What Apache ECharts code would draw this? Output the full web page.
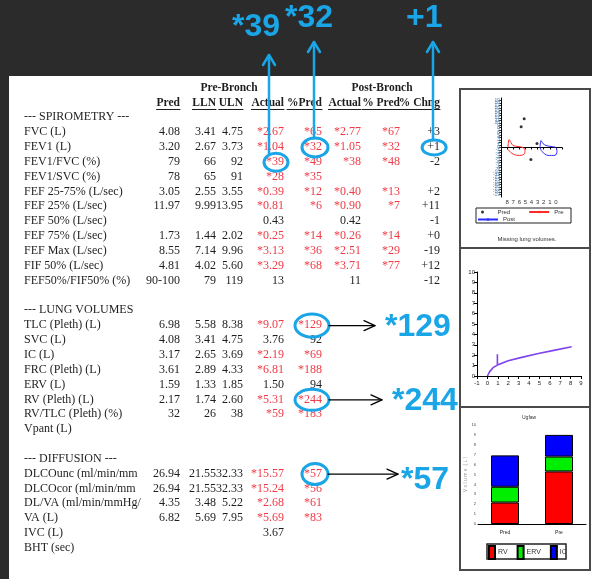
<!DOCTYPE html>
<html><head><meta charset="utf-8">
<script src="https://cdn.jsdelivr.net/npm/echarts@6/dist/echarts.min.js"></script>
<style>html,body{margin:0;padding:0;background:#2b2b2b;overflow:hidden}#c{width:592px;height:579px}</style>
</head><body><div id="c"></div><script>
// ---------------- DATA ----------------
const groupHeaders = ['Pre-Bronch', 'Post-Bronch'];
const colHeaders = ['Pred', 'LLN', 'ULN', 'Actual', '%Pred', 'Actual', '% Pred', '% Chng'];
const rowLabels = [
  '--- SPIROMETRY ---', 'FVC (L)', 'FEV1 (L)', 'FEV1/FVC (%)', 'FEV1/SVC (%)', 'FEF 25-75% (L/sec)',
  'FEF 25% (L/sec)', 'FEF 50% (L/sec)', 'FEF 75% (L/sec)', 'FEF Max (L/sec)', 'FIF 50% (L/sec)',
  'FEF50%/FIF50% (%)', '', '--- LUNG VOLUMES', 'TLC (Pleth) (L)', 'SVC (L)', 'IC (L)', 'FRC (Pleth) (L)',
  'ERV (L)', 'RV (Pleth) (L)', 'RV/TLC (Pleth) (%)', 'Vpant (L)', '', '--- DIFFUSION ---',
  'DLCOunc (ml/min/mm', 'DLCOcor (ml/min/mm', 'DL/VA (ml/min/mmHg/', 'VA (L)', 'IVC (L)', 'BHT (sec)'
];
const predCol = ['', '4.08', '3.20', '79', '78', '3.05', '11.97', '', '1.73', '8.55', '4.81', '90-100', '', '',
  '6.98', '4.08', '3.17', '3.61', '1.59', '2.17', '32', '', '', '', '26.94', '26.94', '4.35', '6.82', '', ''];
const llnCol = ['', '3.41', '2.67', '66', '65', '2.55', '9.99', '', '1.44', '7.14', '4.02', '79', '', '',
  '5.58', '3.41', '2.65', '2.89', '1.33', '1.74', '26', '', '', '', '21.55', '21.55', '3.48', '5.69', '', ''];
const ulnCol = ['', '4.75', '3.73', '92', '91', '3.55', '13.95', '', '2.02', '9.96', '5.60', '119', '', '',
  '8.38', '4.75', '3.69', '4.33', '1.85', '2.60', '38', '', '', '', '32.33', '32.33', '5.22', '7.95', '', ''];
const preActualCol = ['', '*2.67', '*1.04', '*39', '*28', '*0.39', '*0.81', '0.43', '*0.25', '*3.13', '*3.29', '13', '', '',
  '*9.07', '3.76', '*2.19', '*6.81', '1.50', '*5.31', '*59', '', '', '', '*15.57', '*15.24', '*2.68', '*5.69', '3.67', ''];
const prePctCol = ['', '*65', '*32', '*49', '*35', '*12', '*6', '', '*14', '*36', '*68', '', '', '',
  '*129', '92', '*69', '*188', '94', '*244', '*183', '', '', '', '*57', '*56', '*61', '*83', '', ''];
const postActualCol = ['', '*2.77', '*1.05', '*38', '', '*0.40', '*0.90', '0.42', '*0.26', '*2.51', '*3.71', '11', '', '',
  '', '', '', '', '', '', '', '', '', '', '', '', '', '', '', ''];
const postPctCol = ['', '*67', '*32', '*48', '', '*13', '*7', '', '*14', '*29', '*77', '', '', '',
  '', '', '', '', '', '', '', '', '', '', '', '', '', '', '', ''];
const chngCol = ['', '+3', '+1', '-2', '', '+2', '+11', '-1', '+0', '-19', '+12', '-12', '', '',
  '', '', '', '', '', '', '', '', '', '', '', '', '', '', '', ''];

// callouts: [row, column] of the highlighted cell, and the enlarged label
const calloutCells = [[3, 3], [2, 4], [2, 7], [14, 4], [19, 4], [24, 4]];
const calloutLabels = ['*39', '*32', '+1', '*129', '*244', '*57'];

// flow-volume panel
const predFlowPts = [[5.2, 11.6], [5.7, 8.4], [3.1, 1.6], [4.1, -4.8]];
const preLoopPts = [[7.85, 0], [7.69, 3.2], [7.36, 2], [7.03, 0.8], [6.21, 0.4], [5.39, 0], [5.07, -1.2],
  [5.23, -2.8], [6.21, -3.2], [7.2, -2.4], [7.85, -0.8]];
const postLoopPts = [[2.61, 0], [2.44, 2.8], [2.11, 1.6], [1.62, 0.8], [0.8, 0.4], [0, 0], [-0.18, -1.6],
  [0.15, -3.2], [1.3, -3.2], [2.28, -1.6], [2.61, 0]];
// volume-time panel
const curvePts = [[0, 0], [0.22, 0.42], [0.54, 0.8], [0.96, 1.05], [0.96, 2.08], [0.96, 1.05], [2, 1.47],
  [3.3, 1.79], [4.9, 2.17], [6.5, 2.49], [8.1, 2.81]];
// lung volume bars
const barCats = ['Pred', 'Pre'];
const rvVals = [2.17, 5.31];
const ervVals = [1.59, 1.50];
const icVals = [3.17, 2.19];

// ---------------- LAYOUT / STYLE ----------------
const BLUE = '#19a5e6', RED = '#f03a45', INK = '#1e1e1e';
const SERIF = '"Liberation Serif","Times New Roman",serif';
const SANS = '"Liberation Sans",Arial,sans-serif';
const rowY = i => 117.2 + i * 14.85;
const colRight = [180, 216, 243, 284, 322, 361, 400, 440];
const cols = [predCol, llnCol, ulnCol, preActualCol, prePctCol, postActualCol, postPctCol, chngCol];
const calloutLayout = [
  { rx: 12, ry: 9, dx: 1, dir: 'up', ax: 269, tip: 55, tx: 232, ty: 27 },
  { rx: 13, ry: 9.5, dx: 2, dir: 'up', ax: 314, tip: 42, tx: 285, ty: 18 },
  { rx: 12, ry: 7.5, dx: 0.5, dir: 'up', ax: 433, tip: 42, tx: 406, ty: 18 },
  { rx: 17, ry: 11.5, dx: 2, dir: 'right', tip: 375, tx: 385, ty: 327 },
  { rx: 17, ry: 10.5, dx: 2, dir: 'right', tip: 382, tx: 392, ty: 401 },
  { rx: 13, ry: 10.5, dx: 2, dir: 'right', tip: 398, tx: 401, ty: 480 }
];

const mctx = document.createElement('canvas').getContext('2d');
function tw(text, font) { mctx.font = font; return mctx.measureText(text).width; }
function T(text, x, y, font, fill, align, z) {
  return { type: 'text', x: x, y: y, z: z || 5, silent: true,
    style: { text: text, font: font, fill: fill || INK, align: align || 'left', verticalAlign: 'middle',
      textAlign: align || 'left', textVerticalAlign: 'middle' } };
}
function L(points, stroke, lw, z) {
  return { type: 'polyline', z: z || 6, silent: true, shape: { points: points },
    style: { stroke: stroke, lineWidth: lw, fill: null, lineCap: 'round', lineJoin: 'round' } };
}

const g = [];
g.push({ type: 'rect', z: 0, silent: true, shape: { x: 9, y: 76, width: 583, height: 503 }, style: { fill: '#ffffff' } });

const F = '12px ' + SERIF, FB = 'bold 11.5px ' + SERIF;
g.push(T(groupHeaders[0], 229, 88, FB, INK, 'center'));
g.push(T(groupHeaders[1], 382, 88, FB, INK, 'center'));
colHeaders.forEach((h, c) => {
  g.push(T(h, colRight[c], 103, FB, INK, 'right'));
  const w = tw(h, FB);
  g.push(L([[colRight[c] - w, 109.5], [colRight[c], 109.5]], INK, 1, 5));
});
rowLabels.forEach((lab, i) => {
  if (lab) g.push(T(lab, 24, rowY(i), F, INK, 'left'));
  cols.forEach((col, c) => {
    const v = col[i];
    if (v) g.push(T(v, colRight[c], rowY(i), F, v.charAt(0) === '*' ? RED : INK, 'right'));
  });
});

// callouts
calloutCells.forEach((cell, k) => {
  const lay = calloutLayout[k];
  const txt = cols[cell[1]][cell[0]];
  const w = tw(txt, F);
  const cx = colRight[cell[1]] - w / 2 + lay.dx, cy = rowY(cell[0]) + 0.5;
  g.push({ type: 'ellipse', z: 7, silent: true, shape: { cx: cx, cy: cy, rx: lay.rx, ry: lay.ry },
    style: { fill: null, stroke: BLUE, lineWidth: 3 } });
  if (lay.dir === 'up') {
    g.push(L([[lay.ax, cy - lay.ry], [lay.ax, lay.tip]], BLUE, 2.5, 7));
    g.push(L([[lay.ax - 6, lay.tip + 10], [lay.ax, lay.tip], [lay.ax + 6, lay.tip + 10]], BLUE, 2.5, 7));
  } else {
    g.push(L([[cx + lay.rx, cy], [lay.tip, cy]], '#000', 1.3, 7));
    g.push(L([[lay.tip - 11, cy - 5], [lay.tip, cy], [lay.tip - 11, cy + 5]], '#000', 1.3, 7));
  }
  g.push(T(calloutLabels[k], lay.tx, lay.ty, 'bold 32px ' + SANS, BLUE, 'left', 8));
});

// right panels frames
g.push({ type: 'rect', z: 3, silent: true, shape: { x: 460, y: 89, width: 130, height: 481 },
  style: { fill: null, stroke: '#4a4a4a', lineWidth: 2 } });
g.push(L([[460, 248], [590, 248]], '#4a4a4a', 2, 3));
g.push(L([[460, 407], [590, 407]], '#4a4a4a', 2, 3));
g.push({ type: 'rect', z: 3, silent: true, shape: { x: 476, y: 208, width: 95, height: 15 },
  style: { fill: null, stroke: '#222', lineWidth: 1 } });
g.push(T('Missing lung volumes.', 527, 239, '6px ' + SANS, '#333', 'center'));
g.push({ type: 'rect', z: 3, silent: true, shape: { x: 487, y: 544, width: 79, height: 15 },
  style: { fill: null, stroke: '#222', lineWidth: 1.5 } });

const axBase = {
  axisLine: { lineStyle: { color: '#000', width: 1 } },
  axisTick: { lineStyle: { color: '#000' }, length: 2 },
  splitLine: { show: false }
};

const option = {
  animation: false,
  backgroundColor: '#2b2b2b',
  title: { text: 'Ugfaw', left: 517, top: 410, textStyle: { fontSize: 5, fontFamily: SANS, color: '#333', fontWeight: 'normal' } },
  grid: [
    { left: 501, top: 98, width: 61, height: 99 },
    { left: 477, top: 272, width: 104, height: 104 },
    { left: 478, top: 425, width: 108, height: 99 }
  ],
  xAxis: [
    Object.assign({}, axBase, { type: 'value', gridIndex: 0, min: -1, max: 9, interval: 1, inverse: true,
      axisLine: { onZero: true, lineStyle: { color: '#000' } },
      axisLabel: { fontSize: 6, margin: 2, color: '#333', fontFamily: SANS, formatter: v => (v < 0 || v > 8) ? '' : String(v) } }),
    Object.assign({}, axBase, { type: 'value', gridIndex: 1, min: -1, max: 9, interval: 1,
      axisTick: { length: 3, lineStyle: { color: '#000' } },
      axisLabel: { fontSize: 6, margin: 4, color: '#222', fontFamily: SANS } }),
    Object.assign({}, axBase, { type: 'category', gridIndex: 2, data: barCats, axisTick: { show: false },
      axisLabel: { fontSize: 5, margin: 6, color: '#222', fontFamily: SANS } })
  ],
  yAxis: [
    Object.assign({}, axBase, { type: 'value', gridIndex: 0, min: -20, max: 20, interval: 1,
      axisLine: { onZero: false, lineStyle: { color: '#000' } },
      axisTick: { length: 2, lineStyle: { color: '#333' } },
      axisLabel: { fontSize: 5, margin: 1, color: '#5b86b0', fontFamily: SANS } }),
    Object.assign({}, axBase, { type: 'value', gridIndex: 1, min: 0, max: 10, interval: 1,
      axisLine: { onZero: false, lineStyle: { color: '#000' } },
      axisTick: { length: 3, lineStyle: { color: '#000' } },
      axisLabel: { fontSize: 6, margin: 2, color: '#222', fontFamily: SANS } }),
    Object.assign({}, axBase, { type: 'value', gridIndex: 2, min: 0, max: 10, interval: 1,
      axisLine: { onZero: false, lineStyle: { color: '#000' } },
      axisLabel: { fontSize: 4, margin: 2, color: '#444', fontFamily: SANS },
      name: 'V o l u m e  ( L )', nameLocation: 'middle', nameGap: 9,
      nameTextStyle: { fontSize: 5, color: '#999', fontFamily: SANS } })
  ],
  legend: [
    { data: [{ name: 'Pred', icon: 'circle' }, 'Pre'], left: 481, top: 209, itemGap: 18, itemWidth: 20, itemHeight: 3,
      padding: 0, textStyle: { fontSize: 6, fontFamily: SANS, color: '#333' } },
    { data: ['Post'], left: 477, top: 216.5, itemWidth: 20, itemHeight: 3, padding: 0,
      textStyle: { fontSize: 6, fontFamily: SANS, color: '#333' } },
    { data: [{ name: 'RV', icon: 'rect' }, { name: 'ERV', icon: 'rect' }, { name: 'IC', icon: 'rect' }],
      left: 488, top: 545, itemWidth: 6, itemHeight: 13, itemGap: 9, padding: 0,
      textStyle: { fontSize: 7, fontFamily: SANS, color: '#333', padding: [0, 0, 0, -2] } }
  ],
  series: [
    { name: 'Pred', type: 'scatter', xAxisIndex: 0, yAxisIndex: 0, data: predFlowPts, symbolSize: 3, itemStyle: { color: '#000' } },
    { name: 'Pre', type: 'line', xAxisIndex: 0, yAxisIndex: 0, data: preLoopPts, symbol: 'none', smooth: 0.3,
      lineStyle: { color: '#ff2a2a', width: 1 }, itemStyle: { color: '#ff2a2a' } },
    { name: 'Post', type: 'line', xAxisIndex: 0, yAxisIndex: 0, data: postLoopPts, symbol: 'none', smooth: 0.3,
      lineStyle: { color: '#2a2aff', width: 1 }, itemStyle: { color: '#2a2aff' } },
    { name: 'Curve', type: 'line', xAxisIndex: 1, yAxisIndex: 1, data: curvePts, symbol: 'none',
      lineStyle: { color: '#7f43ee', width: 1.6 } },
    { name: 'RV', type: 'bar', xAxisIndex: 2, yAxisIndex: 2, stack: 'v', data: rvVals, barWidth: 28,
      itemStyle: { color: '#ff0000', borderColor: '#000', borderWidth: 1 } },
    { name: 'ERV', type: 'bar', xAxisIndex: 2, yAxisIndex: 2, stack: 'v', data: ervVals, barWidth: 28,
      itemStyle: { color: '#00ee00', borderColor: '#000', borderWidth: 1 } },
    { name: 'IC', type: 'bar', xAxisIndex: 2, yAxisIndex: 2, stack: 'v', data: icVals, barWidth: 28,
      itemStyle: { color: '#0000ff', borderColor: '#000', borderWidth: 1 } }
  ],
  graphic: { elements: g }
};
const chart = echarts.init(document.getElementById('c'), null, { renderer: 'canvas', width: 592, height: 579 });
chart.setOption(option);
</script></body></html>
